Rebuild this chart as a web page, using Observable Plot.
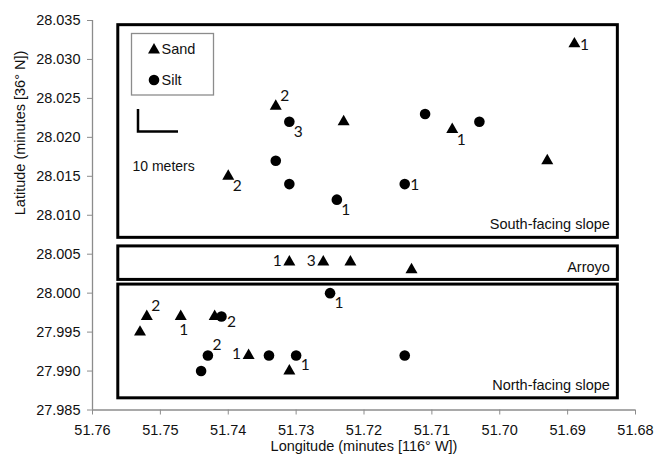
<!DOCTYPE html>
<html><head><meta charset="utf-8">
<script src="https://cdn.jsdelivr.net/npm/d3@7"></script>
<script src="https://cdn.jsdelivr.net/npm/@observablehq/plot@0.6"></script>
<style>body{margin:0;background:#fff}</style>
</head><body><div id="chart"></div>
<script>
// Sampling locations (longitude minutes W, latitude minutes N), with site labels
const sandPoints = [
  {lon: 51.733, lat: 28.024, label: "2", pos: "ur"},
  {lon: 51.723, lat: 28.022, label: "", pos: ""},
  {lon: 51.740, lat: 28.015, label: "2", pos: "lr"},
  {lon: 51.689, lat: 28.032, label: "1", pos: "r"},
  {lon: 51.707, lat: 28.021, label: "1", pos: "lr"},
  {lon: 51.693, lat: 28.017, label: "", pos: ""},
  {lon: 51.731, lat: 28.004, label: "1", pos: "l"},
  {lon: 51.726, lat: 28.004, label: "3", pos: "l"},
  {lon: 51.722, lat: 28.004, label: "", pos: ""},
  {lon: 51.713, lat: 28.003, label: "", pos: ""},
  {lon: 51.752, lat: 27.997, label: "2", pos: "ur"},
  {lon: 51.747, lat: 27.997, label: "1", pos: "b"},
  {lon: 51.742, lat: 27.997, label: "", pos: ""},
  {lon: 51.753, lat: 27.995, label: "", pos: ""},
  {lon: 51.737, lat: 27.992, label: "1", pos: "l"},
  {lon: 51.731, lat: 27.990, label: "", pos: ""}
];
const siltPoints = [
  {lon: 51.731, lat: 28.022, label: "3", pos: "lr"},
  {lon: 51.733, lat: 28.017, label: "", pos: ""},
  {lon: 51.731, lat: 28.014, label: "", pos: ""},
  {lon: 51.724, lat: 28.012, label: "1", pos: "lr"},
  {lon: 51.711, lat: 28.023, label: "", pos: ""},
  {lon: 51.703, lat: 28.022, label: "", pos: ""},
  {lon: 51.714, lat: 28.014, label: "1", pos: "r"},
  {lon: 51.725, lat: 28.000, label: "1", pos: "lr"},
  {lon: 51.741, lat: 27.997, label: "2", pos: "mr"},
  {lon: 51.743, lat: 27.992, label: "2", pos: "ur"},
  {lon: 51.744, lat: 27.990, label: "", pos: ""},
  {lon: 51.734, lat: 27.992, label: "", pos: ""},
  {lon: 51.730, lat: 27.992, label: "1", pos: "lr"},
  {lon: 51.714, lat: 27.992, label: "", pos: ""}
];
// Landscape regions (boxes)
const regions = [
  {name: "South-facing slope", lonMin: 51.7562, lonMax: 51.6826, latMin: 28.0071, latMax: 28.0344},
  {name: "Arroyo",             lonMin: 51.7562, lonMax: 51.6826, latMin: 28.0017, latMax: 28.0060},
  {name: "North-facing slope", lonMin: 51.7562, lonMax: 51.6826, latMin: 27.9865, latMax: 28.0011}
];
const xTicks = [51.76, 51.75, 51.74, 51.73, 51.72, 51.71, 51.70, 51.69, 51.68];
const yTicks = [27.985, 27.990, 27.995, 28.000, 28.005, 28.010, 28.015, 28.020, 28.025, 28.030, 28.035];
const seriesNames = ["Sand", "Silt"];
const scaleBarText = "10 meters";
const xTitle = "Longitude (minutes [116° W])";
const yTitle = "Latitude (minutes [36° N])";

const labelOffsets = {r: [10, 1], mr: [10, 6], lr: [9, 10], ur: [9, -10], l: [-12, -1], b: [3, 14]};
const allPoints = [...sandPoints, ...siltPoints].filter(d => d.label);

const font = "Liberation Sans, Arial, sans-serif";
const labelFont = "Lato, Open Sans, sans-serif";

function legendMark(index, scales, values, dims) {
  const g = d3.create("svg:g").attr("text-anchor", "start").attr("fill", "#111");
  const L = dims.marginLeft, T = dims.marginTop;
  g.append("rect").attr("x", L + 39.5).attr("y", T + 13.5).attr("width", 82).attr("height", 61.5)
    .attr("fill", "#fff").attr("stroke", "#8c8c8c").attr("stroke-width", 1.3);
  g.append("path").attr("d", d3.symbol(d3.symbolTriangle, 62)()).attr("transform", `translate(${L + 62},${T + 30})`).attr("fill", "#000");
  g.append("circle").attr("cx", L + 62).attr("cy", T + 60).attr("r", 5.3).attr("fill", "#000");
  g.append("text").attr("x", L + 69.5).attr("y", T + 29).attr("dy", "0.35em").attr("font-size", 14.5).attr("font-family", font).attr("text-anchor", "start").text(seriesNames[0]);
  g.append("text").attr("x", L + 69.5).attr("y", T + 60).attr("dy", "0.35em").attr("font-size", 14.5).attr("font-family", font).attr("text-anchor", "start").text(seriesNames[1]);
  // scale bar
  g.append("path").attr("d", `M${L + 46},${T + 89}V${T + 111.5}H${L + 86}`).attr("fill", "none").attr("stroke", "#000").attr("stroke-width", 2.5);
  g.append("text").attr("x", L + 40.5).attr("y", T + 146.5).attr("dy", "0.35em").attr("font-size", 14).attr("font-family", font).attr("text-anchor", "start").text(scaleBarText);
  return g.node();
}

const chart = Plot.plot({
  width: 655,
  height: 460,
  marginLeft: 92,
  marginRight: 20,
  marginTop: 20,
  marginBottom: 50.5,
  style: {fontFamily: font, fontSize: "14.5px", color: "#111", background: "#fff"},
  x: {domain: [51.76, 51.68], label: null},
  y: {domain: [27.985, 28.035], label: null},
  marks: [
    Plot.rect(regions, {x1: "lonMin", x2: "lonMax", y1: "latMin", y2: "latMax", fill: "none", stroke: "#000", strokeWidth: 3}),
    Plot.text(regions, {x: "lonMax", y: "latMin", text: "name", textAnchor: "end", dx: -8, dy: -13, fontSize: 14.5, fill: "#111"}),
    Plot.ruleY([27.985], {stroke: "#8c8c8c", strokeWidth: 1.3}),
    Plot.ruleX([51.76], {stroke: "#8c8c8c", strokeWidth: 1.3}),
    Plot.axisX(xTicks, {tickFormat: d3.format(".2f"), tickSize: 5, tickPadding: 10, stroke: "#8c8c8c", fill: "#111", label: null}),
    Plot.axisY(yTicks, {tickFormat: d3.format(".3f"), tickSize: 5, tickPadding: 7, stroke: "#8c8c8c", fill: "#111", label: null}),
    Plot.dot(sandPoints, {x: "lon", y: "lat", symbol: "triangle", r: 4.46, fill: "#000", stroke: "none"}),
    Plot.dot(siltPoints, {x: "lon", y: "lat", symbol: "circle", r: 5.3, fill: "#000", stroke: "none"}),
    ...Object.entries(labelOffsets).map(([k, [dx, dy]]) =>
      Plot.text(allPoints.filter(d => d.pos === k), {x: "lon", y: "lat", text: "label", dx, dy, fontFamily: labelFont, fontSize: 15.5, fill: "#111"})),
    Plot.text([xTitle], {frameAnchor: "bottom", dy: 41, fontSize: 14.5, fill: "#111"}),
    Plot.text([yTitle], {frameAnchor: "left", dx: -72, rotate: -90, fontSize: 14.5, fill: "#111"}),
    legendMark
  ]
});
document.getElementById("chart").appendChild(chart);
</script>
</body></html>
